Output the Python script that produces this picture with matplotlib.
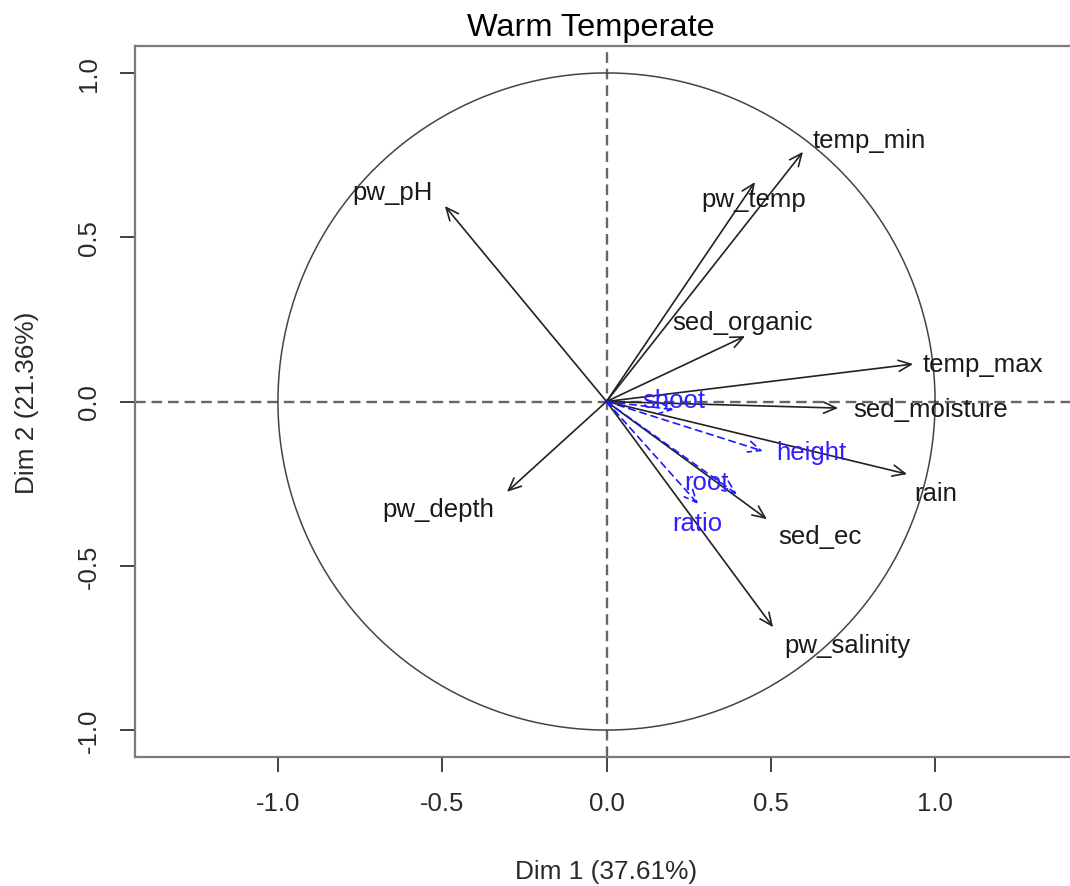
import matplotlib
matplotlib.use("Agg")
import matplotlib.pyplot as plt
import numpy as np

# ---- data ----
title = "Warm Temperate"
xlabel = "Dim 1 (37.61%)"
ylabel = "Dim 2 (21.36%)"
active_vars = ["temp_min", "pw_temp", "sed_organic", "temp_max", "sed_moisture",
               "rain", "sed_ec", "pw_salinity", "pw_pH", "pw_depth"]
active_dim1 = [0.598, 0.452, 0.422, 0.933, 0.705, 0.915, 0.488, 0.507, -0.492, -0.303]
active_dim2 = [0.760, 0.668, 0.199, 0.114, -0.020, -0.221, -0.358, -0.687, 0.595, -0.275]
sup_vars = ["shoot", "height", "root", "ratio"]
sup_dim1 = [0.205, 0.476, 0.397, 0.279]
sup_dim2 = [-0.025, -0.151, -0.282, -0.312]
ticks = [-1.0, -0.5, 0.0, 0.5, 1.0]
tick_labels = ["-1.0", "-0.5", "0.0", "0.5", "1.0"]

# ---- layout / style (pixels) ----
W, H = 1070, 887
label_offsets = {  # label centre offset from arrow tip, in pixels (x right, y up)
    "temp_min": (66, 12), "pw_temp": (-1, -17), "sed_organic": (-3, 14),
    "temp_max": (70, 0), "sed_moisture": (93, -1), "rain": (29, -19),
    "sed_ec": (53, -17), "pw_salinity": (74, -18), "pw_pH": (-52, 14),
    "pw_depth": (-69, -17), "shoot": (0, 10), "height": (48, -1),
    "root": (-31, 12), "ratio": (-1, -19),
}

plt.rcParams['font.family'] = ['Liberation Sans', 'DejaVu Sans']
fig = plt.figure(figsize=(W / 100, H / 100), dpi=100)
left, right, top, bottom = 135, 1078, 47, 758
ax = fig.add_axes([left / W, 1 - bottom / H, (right - left) / W, (bottom - top) / H])
ax.set_xlim(-1.435, 1.435)
ax.set_ylim(-1.082, 1.082)

for s in ax.spines.values():
    s.set_color("#7a7a7a")
    s.set_linewidth(1.6)

ax.set_xticks(ticks)
ax.set_xticklabels(tick_labels)
ax.set_yticks(ticks)
ax.set_yticklabels(tick_labels, rotation=90, va="center")
ax.tick_params(axis="both", length=10.5, width=1.3, color="#333333",
               labelsize=18.5, labelcolor="#2a2a2a")
ax.tick_params(axis="x", pad=14)
ax.tick_params(axis="y", pad=14)

# dashed axes
ax.axhline(0, color="#666666", lw=1.7, ls=(0, (4.5, 2.5)), zorder=1)
ax.axvline(0, color="#666666", lw=1.7, ls=(0, (4.5, 2.5)), zorder=1)

# circle
th = np.linspace(0, 2 * np.pi, 400)
ax.plot(np.cos(th), np.sin(th), color="#444444", lw=1.1, zorder=1)

astyle = "->,head_length=0.45,head_width=0.2"
for name, x, y in zip(active_vars, active_dim1, active_dim2):
    ax.annotate("", xy=(x, y), xytext=(0, 0),
                arrowprops=dict(arrowstyle=astyle, color="#222222", lw=1.2,
                                shrinkA=0, shrinkB=0, mutation_scale=20), zorder=3)
    dx, dy = label_offsets[name]
    ax.annotate(name, xy=(x, y), xytext=(dx, dy), textcoords="offset pixels",
                ha="center", va="center", fontsize=18.5, color="#1a1a1a", zorder=4)

for name, x, y in zip(sup_vars, sup_dim1, sup_dim2):
    ax.annotate("", xy=(x, y), xytext=(0, 0),
                arrowprops=dict(arrowstyle=astyle, color="#1a1aff", lw=1.2,
                                linestyle=(0, (4, 3)),
                                shrinkA=0, shrinkB=0, mutation_scale=20), zorder=3)
    dx, dy = label_offsets[name]
    ax.annotate(name, xy=(x, y), xytext=(dx, dy), textcoords="offset pixels",
                ha="center", va="center", fontsize=18.5, color="#3020ff", zorder=4)

fig.text(591 / W, 1 - 28 / H, title, ha="center", va="center", fontsize=23.4, color="black")
fig.text(606 / W, 1 - 872 / H, xlabel, ha="center", va="center", fontsize=18.9, color="#2a2a2a")
fig.text(27 / W, 1 - 403 / H, ylabel, ha="center", va="center", rotation=90,
         fontsize=18.9, color="#2a2a2a")

fig.savefig("out.png", dpi=100)
